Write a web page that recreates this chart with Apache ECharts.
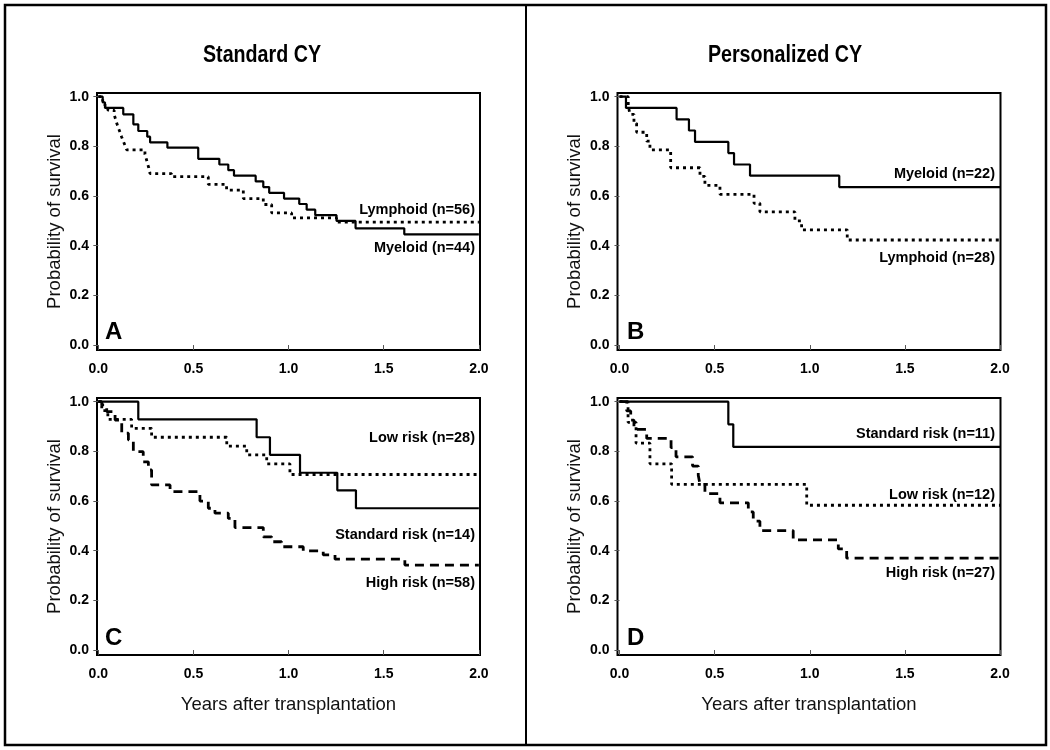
<!DOCTYPE html>
<html><head><meta charset="utf-8">
<script src="https://cdn.jsdelivr.net/npm/echarts@6/dist/echarts.min.js"></script>
<style>html,body{margin:0;padding:0;background:#fff}#c{width:1050px;height:750px}</style>
</head><body><div id="c"></div>
<script>
// ---------- DATA ----------
const xTicks = [0, 0.5, 1.0, 1.5, 2.0];
const yTicks = [0, 0.2, 0.4, 0.6, 0.8, 1.0];
const columnTitles = ['Standard CY', 'Personalized CY'];
const panelLetters = ['A', 'B', 'C', 'D'];
const yAxisTitle = 'Probability of survival';
const xAxisTitle = 'Years after transplantation';

// Panel A (Standard CY, by lineage)
const aMyeloidT = [0, 0.023, 0.035, 0.131, 0.184, 0.21, 0.257, 0.272, 0.363, 0.525, 0.636, 0.683, 0.713, 0.827, 0.867, 0.898, 0.976, 1.056, 1.095, 1.14, 1.252, 1.352, 1.608, 2.0];
const aMyeloidS = [1, 0.977, 0.955, 0.929, 0.889, 0.862, 0.839, 0.816, 0.795, 0.75, 0.727, 0.704, 0.682, 0.659, 0.636, 0.613, 0.59, 0.568, 0.545, 0.523, 0.5, 0.47, 0.446, 0.446];
const aLymphoidT = [0, 0.023, 0.035, 0.05, 0.083, 0.09, 0.097, 0.105, 0.114, 0.122, 0.131, 0.14, 0.149, 0.245, 0.252, 0.258, 0.265, 0.272, 0.385, 0.578, 0.674, 0.762, 0.867, 0.911, 1.016, 1.252, 2.0];
const aLymphoidS = [1, 0.982, 0.964, 0.946, 0.929, 0.911, 0.893, 0.875, 0.857, 0.839, 0.821, 0.804, 0.786, 0.768, 0.75, 0.732, 0.714, 0.69, 0.678, 0.647, 0.624, 0.59, 0.566, 0.532, 0.512, 0.495, 0.495];

// Panel B (Personalized CY, by lineage)
const bMyeloidT = [0, 0.034, 0.30, 0.365, 0.397, 0.572, 0.602, 0.686, 1.155, 2.0];
const bMyeloidS = [1, 0.955, 0.909, 0.864, 0.818, 0.773, 0.727, 0.682, 0.636, 0.636];
const bLymphoidT = [0, 0.046, 0.055, 0.076, 0.09, 0.143, 0.16, 0.269, 0.423, 0.449, 0.528, 0.707, 0.738, 0.922, 0.957, 1.197, 2.0];
const bLymphoidS = [1, 0.964, 0.929, 0.893, 0.857, 0.821, 0.786, 0.714, 0.679, 0.643, 0.607, 0.571, 0.536, 0.5, 0.464, 0.423, 0.423];

// Panel C (Standard CY, by risk)
const cStandardT = [0, 0.21, 0.832, 0.902, 1.06, 1.256, 1.354, 2.0];
const cStandardS = [1, 0.929, 0.857, 0.786, 0.714, 0.643, 0.571, 0.571];
const cLowT = [0, 0.018, 0.05, 0.175, 0.28, 0.675, 0.78, 0.885, 1.007, 2.0];
const cLowS = [1, 0.964, 0.929, 0.893, 0.857, 0.821, 0.786, 0.75, 0.707, 0.707];
const cHighT = [0, 0.018, 0.044, 0.088, 0.123, 0.158, 0.184, 0.236, 0.263, 0.28, 0.377, 0.534, 0.578, 0.613, 0.683, 0.718, 0.867, 0.911, 0.963, 1.077, 1.182, 1.244, 1.611, 2.0];
const cHighS = [1, 0.987, 0.96, 0.926, 0.873, 0.846, 0.799, 0.758, 0.725, 0.665, 0.638, 0.6, 0.571, 0.551, 0.53, 0.493, 0.456, 0.436, 0.416, 0.399, 0.383, 0.366, 0.342, 0.342];

// Panel D (Personalized CY, by risk)
const dStandardT = [0, 0.572, 0.598, 2.0];
const dStandardS = [1, 0.909, 0.818, 0.818];
const dLowT = [0, 0.045, 0.087, 0.16, 0.274, 0.984, 2.0];
const dLowS = [1, 0.917, 0.833, 0.75, 0.667, 0.583, 0.583];
const dHighT = [0, 0.038, 0.059, 0.076, 0.143, 0.271, 0.297, 0.384, 0.414, 0.423, 0.449, 0.528, 0.677, 0.703, 0.738, 0.913, 1.15, 1.194, 2.0];
const dHighS = [1, 0.963, 0.926, 0.889, 0.852, 0.815, 0.778, 0.741, 0.704, 0.667, 0.63, 0.593, 0.556, 0.519, 0.481, 0.444, 0.407, 0.37, 0.37];

// ---------- CHART ----------
const pairs = (t, s) => t.map((v, i) => [v, s[i]]);
const FONT = '"Liberation Sans", Arial, Helvetica, sans-serif';
const SOLID = {type: 'solid', width: 2.2, color: '#000'};
const DOTTED = {type: [3, 4], width: 2.8, color: '#000', cap: 'butt'};
const DASHED = {type: [9, 6], width: 2.8, color: '#000', cap: 'butt'};

const panels = [
  {grid: {left: 97, top: 93}, xmin: -0.007, series: [[aMyeloidT, aMyeloidS, SOLID], [aLymphoidT, aLymphoidS, DOTTED]], xName: false},
  {grid: {left: 617.5, top: 93}, xmin: -0.0105, series: [[bMyeloidT, bMyeloidS, SOLID], [bLymphoidT, bLymphoidS, DOTTED]], xName: false},
  {grid: {left: 97, top: 398}, xmin: -0.007, series: [[cStandardT, cStandardS, SOLID], [cLowT, cLowS, DOTTED], [cHighT, cHighS, DASHED]], xName: true},
  {grid: {left: 617.5, top: 398}, xmin: -0.0105, series: [[dStandardT, dStandardS, SOLID], [dLowT, dLowS, DOTTED], [dHighT, dHighS, DASHED]], xName: true}
];

const grid = [], xAxis = [], yAxis = [], series = [];
panels.forEach((p, i) => {
  grid.push({left: p.grid.left, top: p.grid.top, width: 383, height: 257, show: true,
    borderColor: '#000', borderWidth: 2, backgroundColor: 'transparent'});
  xAxis.push({type: 'value', gridIndex: i, min: p.xmin, max: p.xmin + 2.013, offset: 3,
    axisLine: {show: false}, splitLine: {show: false},
    axisTick: {show: true, length: 5, customValues: xTicks, lineStyle: {color: '#555', width: 1}},
    axisLabel: {customValues: xTicks, formatter: v => v.toFixed(1), color: '#000', fontFamily: FONT,
      fontWeight: 'bold', fontSize: 14, margin: 9},
    name: p.xName ? xAxisTitle : '', nameLocation: 'middle', nameGap: 37,
    nameTextStyle: {fontFamily: FONT, fontSize: 18.5, color: '#111'}});
  yAxis.push({type: 'value', gridIndex: i, min: -0.02, max: 1.015,
    axisLine: {show: false}, splitLine: {show: false},
    axisTick: {show: true, length: 5, customValues: yTicks, lineStyle: {color: '#555', width: 1}},
    axisLabel: {customValues: yTicks, formatter: v => v.toFixed(1), color: '#000', fontFamily: FONT,
      fontWeight: 'bold', fontSize: 14, margin: 8},
    name: yAxisTitle, nameLocation: 'middle', nameGap: 33, nameRotate: 90,
    nameTextStyle: {fontFamily: FONT, fontSize: 18.5, color: '#111'}});
  p.series.forEach(s => {
    series.push({type: 'line', xAxisIndex: i, yAxisIndex: i, step: 'end', symbol: 'none',
      silent: true, animation: false, data: pairs(s[0], s[1]), lineStyle: s[2]});
  });
});

const txt = (x, y, text, opts, extra) => Object.assign({type: 'text', x: x, y: y, silent: true,
  style: Object.assign({text: text, fill: '#000', font: 'bold 14.5px ' + FONT, textAlign: 'right', textVerticalAlign: 'middle'}, opts || {})}, extra || {});

const graphic = [
  {type: 'rect', shape: {x: 5, y: 5, width: 1041, height: 740}, style: {fill: 'none', stroke: '#000', lineWidth: 2.5}, silent: true},
  {type: 'line', shape: {x1: 526, y1: 5, x2: 526, y2: 745}, style: {stroke: '#000', lineWidth: 2}, silent: true},
  txt(262, 55, columnTitles[0], {textAlign: 'center', font: 'bold 24px ' + FONT}, {scaleX: 0.82}),
  txt(785, 55, columnTitles[1], {textAlign: 'center', font: 'bold 24px ' + FONT}, {scaleX: 0.82}),
  txt(105, 332, panelLetters[0], {textAlign: 'left', font: 'bold 24px ' + FONT}),
  txt(627, 332, panelLetters[1], {textAlign: 'left', font: 'bold 24px ' + FONT}),
  txt(105, 638, panelLetters[2], {textAlign: 'left', font: 'bold 24px ' + FONT}),
  txt(627, 638, panelLetters[3], {textAlign: 'left', font: 'bold 24px ' + FONT}),
  txt(475, 210, 'Lymphoid (n=56)'),
  txt(475, 248, 'Myeloid (n=44)'),
  txt(995, 174, 'Myeloid (n=22)'),
  txt(995, 258, 'Lymphoid (n=28)'),
  txt(475, 438, 'Low risk (n=28)'),
  txt(475, 535, 'Standard risk (n=14)'),
  txt(475, 583, 'High risk (n=58)'),
  txt(995, 434, 'Standard risk (n=11)'),
  txt(995, 495, 'Low risk (n=12)'),
  txt(995, 573, 'High risk (n=27)')
];

const chart = echarts.init(document.getElementById('c'), null, {renderer: 'canvas'});
chart.setOption({animation: false, backgroundColor: '#fff', grid, xAxis, yAxis, series, graphic});
</script>
</body></html>
